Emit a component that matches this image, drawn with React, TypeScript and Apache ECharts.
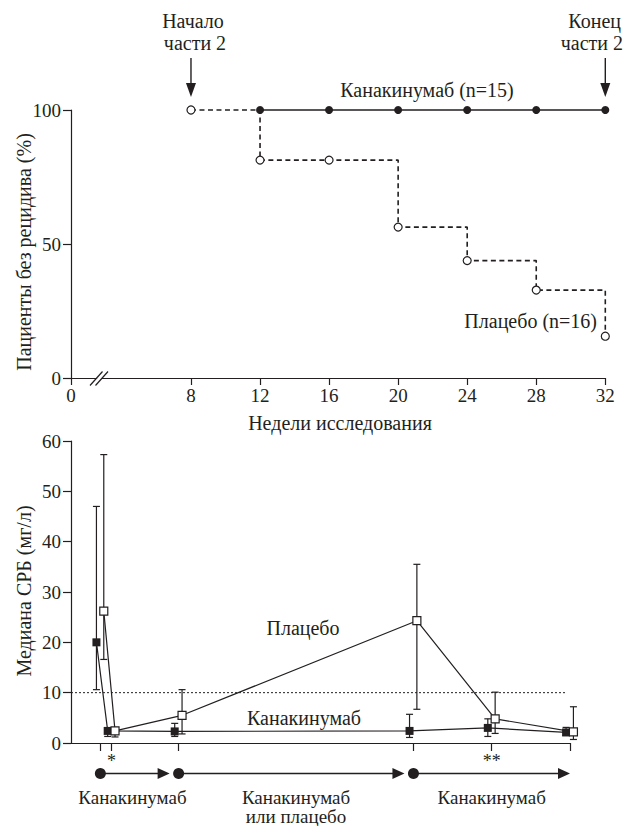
import React, { useEffect, useRef } from "react";
import * as echarts from "echarts";

// ---- Top panel: relapse-free patients (Kaplan–Meier), weeks of study ----
const kmWeeks = [8, 12, 16, 20, 24, 28, 32];
const kmPlacebo = [100, 81.3, 81.3, 56.3, 43.8, 32.8, 15.6];
const kmCanaWeeks = [12, 16, 20, 24, 28, 32];
const kmCana = [100, 100, 100, 100, 100, 100];
const kmXTicks = [8, 12, 16, 20, 24, 28, 32];
const kmAxisStart = 1.05; // broken axis: drawn position of "0"

// ---- Bottom panel: median CRP (mg/l) ----
const crpWeeks = [0, 1.15, 8, 32, 40, 48];
const crpCana = [20, 2.4, 2.3, 2.4, 3.0, 2.1];
const crpCanaLow = [10.6, 1.3, 1.3, 1.1, 1.3, 1.5];
const crpCanaHigh = [47, 3.0, 3.9, 5.7, 4.8, 3.1];
const crpPlacebo = [26.2, 2.4, 5.5, 24.3, 4.8, 2.2];
const crpPlaceboLow = [16.6, 1.2, 1.8, 6.7, 1.9, 0.7];
const crpPlaceboHigh = [57.3, 3.0, 10.6, 35.5, 10.1, 7.2];
const crpThreshold = 10;
const crpThresholdEnd = 47.5;
const phaseStarts = [0, 8, 32];
const phaseEnd = 48;
const phaseLabels = [["Канакинумаб"], ["Канакинумаб", "или плацебо"], ["Канакинумаб"]];
const starWeeks = [1.15, 40];
const starLabels = ["*", "**"];

const INK = "#231f20";
const FONT = "Times New Roman";
const OFF_CANA = -0.4;
const OFF_PLAC = 0.35;

function errorBars(xs: number[], lo: number[], hi: number[], off: number) {
  return {
    type: "custom",
    xAxisIndex: 1,
    yAxisIndex: 1,
    clip: false,
    z: 1,
    silent: true,
    encode: { x: 0, y: [1, 2] },
    data: xs.map((w, i) => [w + off, lo[i], hi[i]]),
    renderItem: (_params: any, api: any) => {
      const x = api.value(0);
      const p1 = api.coord([x, api.value(1)]);
      const p2 = api.coord([x, api.value(2)]);
      const cap = 3.5;
      const st = { stroke: INK, lineWidth: 1.2 };
      return {
        type: "group",
        children: [
          { type: "line", shape: { x1: p1[0], y1: p1[1], x2: p2[0], y2: p2[1] }, style: st },
          { type: "line", shape: { x1: p1[0] - cap, y1: p1[1], x2: p1[0] + cap, y2: p1[1] }, style: st },
          { type: "line", shape: { x1: p2[0] - cap, y1: p2[1], x2: p2[0] + cap, y2: p2[1] }, style: st },
        ],
      };
    },
  };
}

export default function App() {
  const ref = useRef<HTMLDivElement>(null);

  useEffect(() => {
    if (!ref.current) return;
    const chart = echarts.init(ref.current, undefined, { renderer: "svg" });
    const axisLine = { show: true, onZero: false, lineStyle: { color: INK, width: 1.2 } };
    const tickStyle = { color: INK, width: 1.2 };
    const labelStyle = { color: INK, fontFamily: FONT, fontSize: 19 };

    chart.setOption({
      animation: false,
      textStyle: { fontFamily: FONT },
      grid: [
        { left: 71, top: 110, width: 534.3, height: 268 },
        { left: 71, top: 441, width: 499, height: 302 },
      ],
      xAxis: [
        {
          gridIndex: 0,
          type: "value",
          min: kmAxisStart,
          max: 32,
          axisLine,
          axisTick: { show: true, customValues: [kmAxisStart, ...kmXTicks], length: 7, lineStyle: tickStyle },
          axisLabel: {
            ...labelStyle,
            customValues: [kmAxisStart, ...kmXTicks],
            margin: 8,
            formatter: (v: number) => (Math.abs(v - kmAxisStart) < 1e-6 ? "0" : String(v)),
          },
          splitLine: { show: false },
        },
        {
          gridIndex: 1,
          type: "value",
          min: -3,
          max: 48,
          axisLine,
          axisTick: { show: true, customValues: crpWeeks, length: 8, lineStyle: tickStyle },
          axisLabel: { show: false },
          splitLine: { show: false },
        },
      ],
      yAxis: [
        {
          gridIndex: 0,
          type: "value",
          min: 0,
          max: 100,
          interval: 50,
          axisLine,
          axisTick: { show: true, length: 8, lineStyle: tickStyle },
          axisLabel: { ...labelStyle, margin: 10 },
          splitLine: { show: false },
        },
        {
          gridIndex: 1,
          type: "value",
          min: 0,
          max: 60,
          interval: 10,
          axisLine,
          axisTick: { show: true, length: 8, lineStyle: tickStyle },
          axisLabel: { ...labelStyle, margin: 10 },
          splitLine: { show: false },
        },
      ],
      series: [
        {
          name: "Плацебо (n=16)",
          type: "line",
          xAxisIndex: 0,
          yAxisIndex: 0,
          step: "end",
          data: kmWeeks.map((w, i) => [w, kmPlacebo[i]]),
          symbol: "circle",
          symbolSize: 8,
          itemStyle: { color: "#ffffff", borderColor: INK, borderWidth: 1.2 },
          lineStyle: { color: INK, width: 1.6, type: [5, 3.5] },
          clip: false,
          z: 3,
        },
        {
          name: "Канакинумаб (n=15)",
          type: "line",
          xAxisIndex: 0,
          yAxisIndex: 0,
          data: kmCanaWeeks.map((w, i) => [w, kmCana[i]]),
          symbol: "circle",
          symbolSize: 8,
          itemStyle: { color: INK },
          lineStyle: { color: INK, width: 1.4 },
          clip: false,
          z: 4,
        },
        {
          name: "Порог",
          type: "line",
          xAxisIndex: 1,
          yAxisIndex: 1,
          data: [
            [-3, crpThreshold],
            [crpThresholdEnd, crpThreshold],
          ],
          symbol: "none",
          lineStyle: { color: INK, width: 1, type: [2, 2] },
          z: 0,
          silent: true,
        },
        errorBars(crpWeeks, crpCanaLow, crpCanaHigh, OFF_CANA),
        errorBars(crpWeeks, crpPlaceboLow, crpPlaceboHigh, OFF_PLAC),
        {
          name: "Канакинумаб",
          type: "line",
          xAxisIndex: 1,
          yAxisIndex: 1,
          data: crpWeeks.map((w, i) => [w + OFF_CANA, crpCana[i]]),
          symbol: "rect",
          symbolSize: 8,
          itemStyle: { color: INK },
          lineStyle: { color: INK, width: 1.2 },
          clip: false,
          z: 3,
        },
        {
          name: "Плацебо",
          type: "line",
          xAxisIndex: 1,
          yAxisIndex: 1,
          data: crpWeeks.map((w, i) => [w + OFF_PLAC, crpPlacebo[i]]),
          symbol: "rect",
          symbolSize: 8,
          itemStyle: { color: "#ffffff", borderColor: INK, borderWidth: 1.2 },
          lineStyle: { color: INK, width: 1.2 },
          clip: false,
          z: 4,
        },
      ],
    });

    // annotations positioned through the axes
    const px0 = (w: number) => chart.convertToPixel({ xAxisIndex: 0 }, w) as number;
    const px1 = (w: number) => chart.convertToPixel({ xAxisIndex: 1 }, w) as number;
    const txt = (x: number, y: number, text: string, extra: any = {}) => ({
      type: "text",
      x,
      y,
      silent: true,
      style: {
        text,
        fill: INK,
        fontFamily: FONT,
        fontSize: 20,
        align: "center",
        verticalAlign: "middle",
        ...(extra.style || {}),
      },
      ...(extra.props || {}),
    });
    const downArrow = (x: number) => [
      { type: "line", shape: { x1: x, y1: 58, x2: x, y2: 86 }, style: { stroke: INK, lineWidth: 1.4 } },
      {
        type: "polygon",
        shape: { points: [[x - 5, 83], [x + 5, 83], [x, 97]] },
        style: { fill: INK },
      },
    ];

    const graphics: any[] = [];
    // top panel labels
    graphics.push(txt(px0(8) + 2, 21, "Начало"));
    graphics.push(txt(px0(8) + 4, 43, "части 2"));
    graphics.push(txt(621, 21, "Конец", { style: { align: "right" } }));
    graphics.push(txt(623, 43, "части 2", { style: { align: "right" } }));
    graphics.push(...downArrow(px0(8)), ...downArrow(px0(32)));
    graphics.push(txt(427, 90, "Канакинумаб (n=15)"));
    graphics.push(txt(597, 321, "Плацебо (n=16)", { style: { align: "right" } }));
    graphics.push(txt(340, 423, "Недели исследования"));
    graphics.push(txt(24, 252, "Пациенты без рецидива (%)", { props: { rotation: Math.PI / 2 } }));
    // axis break
    graphics.push({
      type: "polygon",
      shape: { points: [[91, 385], [95.5, 385], [108.5, 371], [104, 371]] },
      style: { fill: "#ffffff" },
      z: 100,
    });
    graphics.push({
      type: "line",
      shape: { x1: 90, y1: 385.5, x2: 102.5, y2: 371.5 },
      style: { stroke: INK, lineWidth: 1.2 },
      z: 101,
    });
    graphics.push({
      type: "line",
      shape: { x1: 95.5, y1: 385.5, x2: 108, y2: 371.5 },
      style: { stroke: INK, lineWidth: 1.2 },
      z: 101,
    });

    // bottom panel labels
    graphics.push(txt(24, 591, "Медиана СРБ (мг/л)", { props: { rotation: Math.PI / 2 } }));
    graphics.push(txt(303, 628, "Плацебо"));
    graphics.push(txt(304, 718, "Канакинумаб"));
    starWeeks.forEach((w, i) =>
      graphics.push(txt(px1(w), 761, starLabels[i], { style: { fontSize: 18 } }))
    );
    // treatment phases timeline
    const yT = 773.5;
    phaseStarts.forEach((w, i) => {
      const xs = px1(w);
      const xe = i < phaseStarts.length - 1 ? px1(phaseStarts[i + 1]) - 9 : px1(phaseEnd);
      graphics.push({ type: "line", shape: { x1: xs, y1: yT, x2: xe - 10, y2: yT }, style: { stroke: INK, lineWidth: 1.4 } });
      graphics.push({ type: "polygon", shape: { points: [[xe - 12, yT - 5.5], [xe - 12, yT + 5.5], [xe, yT]] }, style: { fill: INK } });
      graphics.push({ type: "circle", shape: { cx: xs, cy: yT, r: 5.5 }, style: { fill: INK } });
      const xc = i < phaseStarts.length - 1 ? (xs + px1(phaseStarts[i + 1])) / 2 : (xs + px1(phaseEnd)) / 2;
      phaseLabels[i].forEach((t, k) =>
        graphics.push(txt(xc + (i === 0 ? -7 : 0), 797 + k * 19.5, t, { style: { fontSize: 19 } }))
      );
    });

    chart.setOption({ graphic: graphics });

    return () => chart.dispose();
  }, []);

  return (
    <div
      ref={ref}
      style={{ position: "absolute", left: 0, top: 0, width: 623, height: 826, fontFamily: FONT }}
    />
  );
}
